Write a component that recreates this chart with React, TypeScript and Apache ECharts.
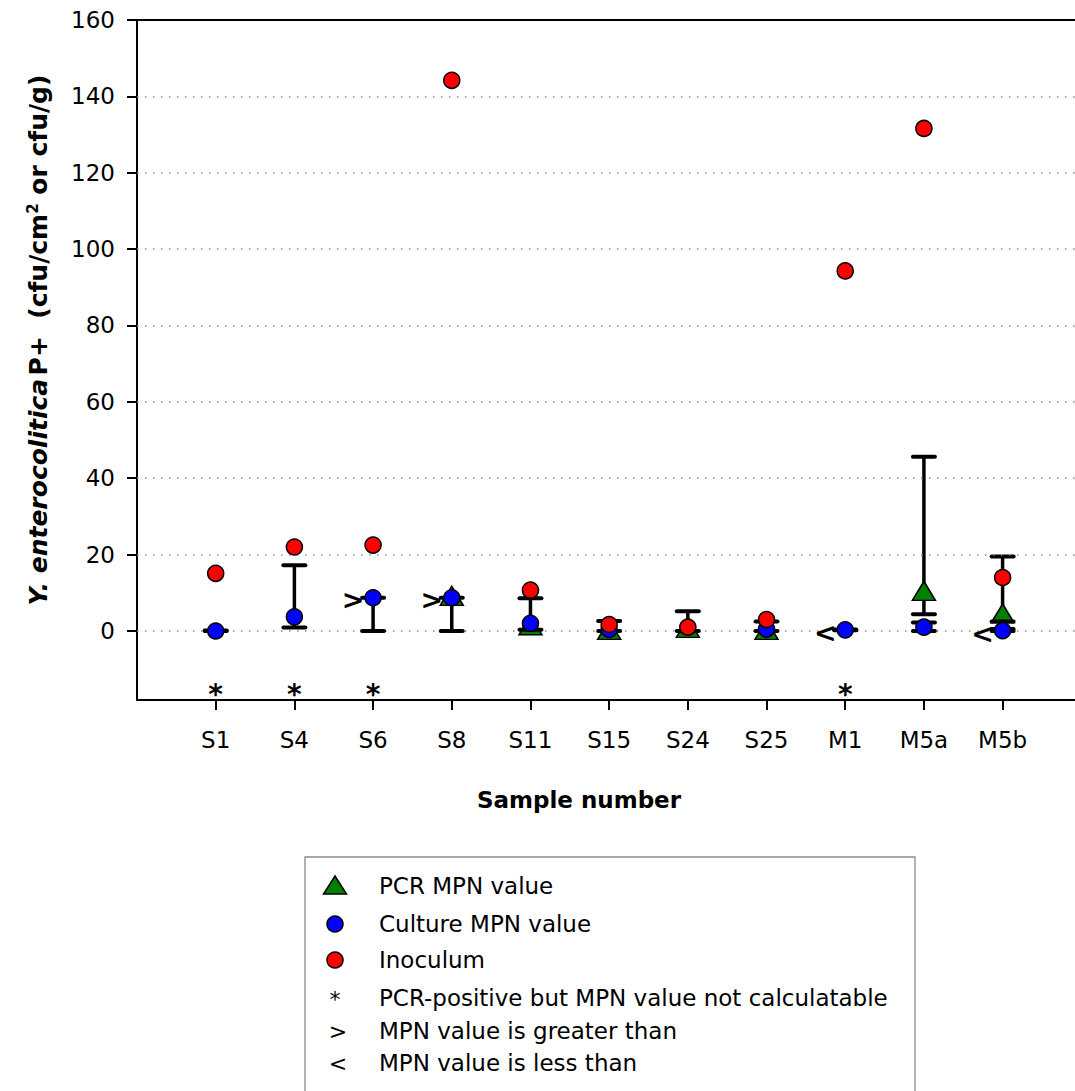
import React, { useEffect, useRef } from "react";
import * as echarts from "echarts";

// ---------------- data ----------------
const categories = ["S1", "S4", "S6", "S8", "S11", "S15", "S24", "S25", "M1", "M5a", "M5b"];
const yTicks = [0, 20, 40, 60, 80, 100, 120, 140, 160];

const inoculum = [15.1, 22.0, 22.5, 144.2, 10.7, 1.7, 1.0, 3.0, 94.3, 131.6, 14.0];

const cultureMPN = [0, 3.7, 8.7, 8.7, 2.0, 0.4, null, 0.5, 0.3, 1.0, 0.1];
const cultureLow = [0, 0.9, 0, 0, 0.3, 0, 0, 0, 0.2, 0, 0];
const cultureHigh = [0.1, 17.2, 8.7, 8.7, 8.6, 2.6, 5.2, 2.5, 0.4, 2.2, 2.5];

const pcrMPN = [null, null, null, 9.2, 1.5, 0.3, 0.8, 0.3, null, 10.5, 4.6];
const pcrLow = [null, null, null, null, null, null, null, null, null, 4.4, 0.5];
const pcrHigh = [null, null, null, null, null, null, null, null, null, 45.6, 19.5];

const notCalculable = ["S1", "S4", "S6", "M1"];
const greaterThan = ["S6", "S8"];
const lessThan = ["M1", "M5b"];

const legendItems = [
  { label: "PCR MPN value", mark: "triangle" },
  { label: "Culture MPN value", mark: "blue" },
  { label: "Inoculum", mark: "red" },
  { label: "PCR-positive but MPN value not calculatable", mark: "*" },
  { label: "MPN value is greater than", mark: ">" },
  { label: "MPN value is less than", mark: "<" },
];

// ---------------- styling ----------------
const FONT = "'DejaVu Sans', Verdana, sans-serif";
const GREEN = "#008000";
const BLUE = "#0000ff";
const RED = "#ff0000";
const Y_MIN = -18.07;
const X_MAX = 11.92;
const STAR_LEVEL = -14.7;

const xOf = (cat: string) => categories.indexOf(cat) + 1;

const points = (arr: (number | null)[]) =>
  arr.map((v, i) => (v == null ? null : [i + 1, v])).filter((d) => d !== null);

const bars = (lo: (number | null)[], hi: (number | null)[]) =>
  lo.map((l, i) => (l == null || hi[i] == null ? null : [i + 1, l, hi[i]])).filter((d) => d !== null);

const errorBarRender = (params: any, api: any) => {
  const x = api.value(0);
  const pLo = api.coord([x, api.value(1)]);
  const pHi = api.coord([x, api.value(2)]);
  const hw = 11;
  const style = { stroke: "#000", lineWidth: 3.5, fill: "none" };
  const capStyle = { stroke: "#000", lineWidth: 4, fill: "none", lineCap: "round" };
  return {
    type: "group",
    children: [
      { type: "line", shape: { x1: pLo[0], y1: pLo[1], x2: pHi[0], y2: pHi[1] }, style },
      { type: "line", shape: { x1: pLo[0] - hw, y1: pLo[1], x2: pLo[0] + hw, y2: pLo[1] }, style: capStyle },
      { type: "line", shape: { x1: pHi[0] - hw, y1: pHi[1], x2: pHi[0] + hw, y2: pHi[1] }, style: capStyle },
    ],
  };
};

const textMarkRender = (text: string, dx: number, dy: number, size: number) => (params: any, api: any) => {
  const p = api.coord([api.value(0), api.value(1)]);
  return {
    type: "text",
    x: p[0] + dx,
    y: p[1] + dy,
    style: {
      text,
      fill: "#000",
      fontSize: size,
      fontWeight: "bold",
      fontFamily: FONT,
      align: "center",
      verticalAlign: "middle",
      textAlign: "center",
      textVerticalAlign: "middle",
    },
  };
};

export default function App() {
  const ref = useRef<HTMLDivElement>(null);

  useEffect(() => {
    const chart = echarts.init(ref.current!, null, { renderer: "svg" });

    const catTicks = categories.map((_, i) => i + 1);
    const gridValues = yTicks.filter((v) => v < 160);

    const legendRowsY = [886, 924, 960, 998, 1031, 1063];
    const legendGraphics: any[] = [
      {
        type: "rect",
        shape: { x: 305, y: 857, width: 610, height: 300 },
        style: { fill: "#fff", stroke: "#8c8c8c", lineWidth: 1.3 },
        z: 0,
      },
    ];
    legendItems.forEach((item, i) => {
      const cy = legendRowsY[i];
      if (item.mark === "triangle") {
        legendGraphics.push({
          type: "polygon",
          shape: { points: [[323.5, cy + 8], [346.5, cy + 8], [335, cy - 10]] },
          style: { fill: GREEN, stroke: "#000", lineWidth: 1.5 },
          z: 1,
        });
      } else if (item.mark === "blue" || item.mark === "red") {
        legendGraphics.push({
          type: "circle",
          shape: { cx: 335, cy, r: 8 },
          style: { fill: item.mark === "blue" ? BLUE : RED, stroke: "#000", lineWidth: 1.5 },
          z: 1,
        });
      } else {
        legendGraphics.push({
          type: "text",
          x: item.mark === "*" ? 335 : 338,
          y: item.mark === "*" ? cy + 1 : cy,
          style: {
            text: item.mark,
            fill: "#000",
            fontSize: 22,
            fontFamily: FONT,
            align: "center",
            verticalAlign: "middle",
            textAlign: "center",
            textVerticalAlign: "middle",
          },
          z: 1,
        });
      }
      legendGraphics.push({
        type: "text",
        x: 379,
        y: cy,
        style: {
          text: item.label,
          fill: "#000",
          fontSize: 23,
          fontFamily: FONT,
          align: "left",
          verticalAlign: "middle",
          textAlign: "left",
          textVerticalAlign: "middle",
        },
        z: 1,
      });
    });

    chart.setOption({
      animation: false,
      backgroundColor: "#fff",
      grid: { left: 137, top: 20, right: 0, bottom: 391, containLabel: false },
      xAxis: [
        {
          type: "value",
          min: 0,
          max: X_MAX,
          position: "bottom",
          axisLine: { show: true, onZero: false, lineStyle: { color: "#000", width: 2 } },
          axisTick: { show: true, customValues: catTicks, length: 10, lineStyle: { color: "#000", width: 2 } },
          axisLabel: {
            show: true,
            customValues: catTicks,
            formatter: (v: number) => categories[Math.round(v) - 1] ?? "",
            fontSize: 23,
            fontFamily: FONT,
            color: "#000",
            margin: 28,
          },
          splitLine: { show: false },
        },
        {
          type: "value",
          min: 0,
          max: X_MAX,
          position: "top",
          axisLine: { show: true, onZero: false, lineStyle: { color: "#000", width: 2 } },
          axisTick: { show: false },
          axisLabel: { show: false },
          splitLine: { show: false },
        },
      ],
      yAxis: {
        type: "value",
        min: Y_MIN,
        max: 160,
        axisLine: { show: true, onZero: false, lineStyle: { color: "#000", width: 2 } },
        axisTick: { show: true, customValues: yTicks, length: 10, lineStyle: { color: "#000", width: 2 } },
        axisLabel: {
          show: true,
          customValues: yTicks,
          fontSize: 23,
          fontFamily: FONT,
          color: "#000",
          margin: 22,
        },
        splitLine: { show: false },
      },
      graphic: [
        {
          type: "text",
          x: 38,
          y: 340,
          rotation: Math.PI / 2,
          style: {
            text: "{i|Y. enterocolitica} {b|P+  (cfu/cm}{s|2}{b| or cfu/g)}",
            fill: "#000",
            align: "center",
            verticalAlign: "middle",
            textAlign: "center",
            textVerticalAlign: "middle",
            rich: {
              i: { fontSize: 25, fontWeight: "bold", fontStyle: "italic", fontFamily: FONT, fill: "#000" },
              b: { fontSize: 25, fontWeight: "bold", fontFamily: FONT, fill: "#000" },
              s: { fontSize: 15, fontWeight: "bold", fontFamily: FONT, fill: "#000", verticalAlign: "top" },
            },
          },
        },
        {
          type: "text",
          x: 579,
          y: 800,
          style: {
            text: "Sample number",
            fill: "#000",
            fontSize: 23,
            fontWeight: "bold",
            fontFamily: FONT,
            align: "center",
            verticalAlign: "middle",
            textAlign: "center",
            textVerticalAlign: "middle",
          },
        },
        ...legendGraphics,
      ],
      series: [
        {
          name: "gridlines",
          type: "scatter",
          data: [],
          silent: true,
          markLine: {
            silent: true,
            symbol: ["none", "none"],
            label: { show: false },
            lineStyle: { color: "#8a8a8a", width: 1.5, type: [1.5, 6.5] },
            data: gridValues.map((v) => ({ yAxis: v })),
          },
          z: 1,
        },
        {
          name: "PCR error",
          type: "custom",
          renderItem: errorBarRender,
          data: bars(pcrLow, pcrHigh),
          encode: { x: 0, y: [1, 2] },
          z: 3,
        },
        {
          name: "PCR MPN value",
          type: "scatter",
          data: points(pcrMPN),
          symbol: "triangle",
          symbolSize: [23, 19],
          itemStyle: { color: GREEN, borderColor: "#000", borderWidth: 1.5, opacity: 1 },
          z: 4,
        },
        {
          name: "Culture error",
          type: "custom",
          renderItem: errorBarRender,
          data: bars(cultureLow, cultureHigh),
          encode: { x: 0, y: [1, 2] },
          z: 5,
        },
        {
          name: "Culture MPN value",
          type: "scatter",
          data: points(cultureMPN),
          symbol: "circle",
          symbolSize: 16,
          itemStyle: { color: BLUE, borderColor: "#000", borderWidth: 1.5, opacity: 1 },
          z: 6,
        },
        {
          name: "Inoculum",
          type: "scatter",
          data: points(inoculum),
          symbol: "circle",
          symbolSize: 16,
          itemStyle: { color: RED, borderColor: "#000", borderWidth: 1.5, opacity: 1 },
          z: 7,
        },
        {
          name: "not calculable",
          type: "custom",
          renderItem: textMarkRender("*", 0, 7, 28),
          data: notCalculable.map((c) => [xOf(c), STAR_LEVEL]),
          z: 8,
        },
        {
          name: "greater",
          type: "custom",
          renderItem: textMarkRender(">", -20, 2, 27),
          data: greaterThan.map((c) => [xOf(c), cultureMPN[xOf(c) - 1] as number]),
          z: 8,
        },
        {
          name: "less",
          type: "custom",
          renderItem: textMarkRender("<", -20, 3, 27),
          data: lessThan.map((c) => [xOf(c), cultureMPN[xOf(c) - 1] as number]),
          z: 8,
        },
      ],
    });

    return () => chart.dispose();
  }, []);

  return (
    <div
      ref={ref}
      style={{ position: "absolute", left: 0, top: 0, width: 1075, height: 1091, background: "#fff" }}
    />
  );
}
